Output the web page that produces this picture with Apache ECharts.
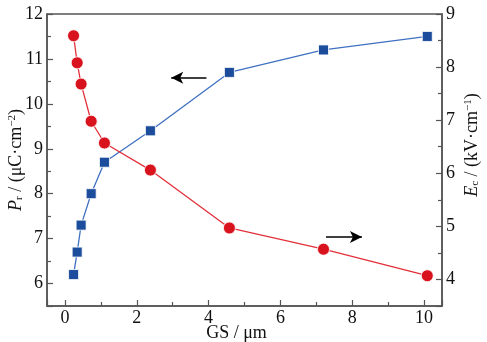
<!DOCTYPE html>
<html>
<head>
<meta charset="utf-8">
<script src="https://cdn.jsdelivr.net/npm/echarts@6/dist/echarts.min.js"></script>
<style>html,body{margin:0;padding:0;background:#fff}#c{width:487px;height:342px}</style>
</head>
<body>
<div id="c"></div>
<script>
// Data
var grainSize = [0.24, 0.34, 0.45, 0.73, 1.1, 2.38, 4.58, 7.2, 10.09];
var prValues  = [6.2, 6.7, 7.3, 8.0, 8.7, 9.4, 10.7, 11.2, 11.5];
var ecValues  = [8.59, 8.08, 7.68, 6.98, 6.57, 6.06, 4.97, 4.57, 4.07];
// Annotation arrows (data coordinates): [x0, y0, x1, y1]
var arrowPr = [3.94, 10.58, 2.96, 10.58];
var arrowEc = [7.27, 4.80, 8.27, 4.80];

var FONT = '"Times New Roman", "Liberation Serif", Times, serif';
var AX = '#555';
function pairs(xs, ys){ return xs.map(function(x,i){ return [x, ys[i]]; }); }
function evenLabel(v){ return (Math.abs(v - Math.round(v)) < 1e-9) ? String(Math.round(v)) : ''; }

var rich = {
  i:   {fontFamily: FONT, fontSize: 18, fontStyle: 'italic', color: '#111'},
  n:   {fontFamily: FONT, fontSize: 18, color: '#111'},
  sub: {fontFamily: FONT, fontSize: 11, color: '#111', verticalAlign: 'bottom', padding: [7, 0, 0, 0]},
  sup: {fontFamily: FONT, fontSize: 11, color: '#111', verticalAlign: 'top', padding: [0, 0, 7, 0]}
};

var chart = echarts.init(document.getElementById('c'), null, {renderer: 'canvas'});
chart.setOption({
  animation: false,
  backgroundColor: '#fff',
  grid: {left: 47, right: 45, top: 14, bottom: 36, containLabel: false, outerBoundsMode: 'none',
         show: true, borderColor: AX, borderWidth: 1.5},
  xAxis: {
    type: 'value', min: -0.5, max: 10.5, minInterval: 2, maxInterval: 2,
    name: 'GS / μm', nameLocation: 'middle', nameGap: 18, nameMoveOverlap: false,
    nameTextStyle: {fontFamily: FONT, fontSize: 18, color: '#111', padding: [0, 16, 0, 0]},
    axisLine: {onZero: false, lineStyle: {color: AX, width: 1.5}},
    axisTick: {inside: true, length: 6, lineStyle: {color: AX, width: 1.2}},
    minorTick: {show: true, splitNumber: 2, length: 4, lineStyle: {color: AX, width: 1.2}},
    axisLabel: {fontFamily: FONT, fontSize: 18, color: '#111', margin: 3, formatter: function(v){ return (Math.abs(v % 2) < 1e-9) ? String(v) : ''; }},
    splitLine: {show: false}
  },
  yAxis: [{
    type: 'value', min: 5.5, max: 12, minInterval: 1, maxInterval: 1, position: 'left',
    name: '{i|P}{sub|r}{n| / (μC·cm}{sup|−2}{n|)}', nameLocation: 'middle', nameRotate: 90, nameGap: 22, nameMoveOverlap: false,
    nameTextStyle: {rich: rich},
    axisLine: {show: true, onZero: false, lineStyle: {color: AX, width: 1.5}},
    axisTick: {inside: true, length: 6, lineStyle: {color: AX, width: 1.2}},
    minorTick: {show: true, splitNumber: 2, length: 4, lineStyle: {color: AX, width: 1.2}},
    axisLabel: {fontFamily: FONT, fontSize: 18, color: '#111', margin: 4, formatter: evenLabel},
    splitLine: {show: false}
  }, {
    type: 'value', min: 3.5, max: 9, minInterval: 1, maxInterval: 1, position: 'right',
    name: '{i|E}{sub|c}{n| / (kV·cm}{sup|−1}{n|)}', nameLocation: 'middle', nameRotate: 90, nameGap: 21, nameMoveOverlap: false,
    nameTextStyle: {rich: rich, padding: [0, 0, 0, 30]},
    axisLine: {show: true, onZero: false, lineStyle: {color: AX, width: 1.5}},
    axisTick: {inside: true, length: 6, lineStyle: {color: AX, width: 1.2}},
    minorTick: {show: true, splitNumber: 2, length: 4, lineStyle: {color: AX, width: 1.2}},
    axisLabel: {fontFamily: FONT, fontSize: 18, color: '#111', margin: 4, formatter: evenLabel},
    splitLine: {show: false}
  }],
  series: [{
    type: 'line', yAxisIndex: 0, data: pairs(grainSize, prValues),
    symbol: 'rect', symbolSize: 10,
    lineStyle: {color: '#3f70c2', width: 1.3},
    itemStyle: {color: '#1c4c9c', borderColor: '#ffffff', borderWidth: 0.8},
    markLine: {
      silent: true, symbol: ['none', 'arrow'], symbolSize: [9, 12],
      label: {show: false},
      lineStyle: {color: '#000', width: 1.5, type: 'solid'},
      data: [[{coord: [arrowPr[0], arrowPr[1]]}, {coord: [arrowPr[2], arrowPr[3]]}]]
    }
  }, {
    type: 'line', yAxisIndex: 1, data: pairs(grainSize, ecValues),
    symbol: 'circle', symbolSize: 12,
    lineStyle: {color: '#e2303a', width: 1.3},
    itemStyle: {color: '#d8131d', borderColor: '#ffffff', borderWidth: 0.8},
    markLine: {
      silent: true, symbol: ['none', 'arrow'], symbolSize: [9, 12],
      label: {show: false},
      lineStyle: {color: '#000', width: 1.5, type: 'solid'},
      data: [[{coord: [arrowEc[0], arrowEc[1]]}, {coord: [arrowEc[2], arrowEc[3]]}]]
    }
  }]
});
</script>
</body>
</html>
